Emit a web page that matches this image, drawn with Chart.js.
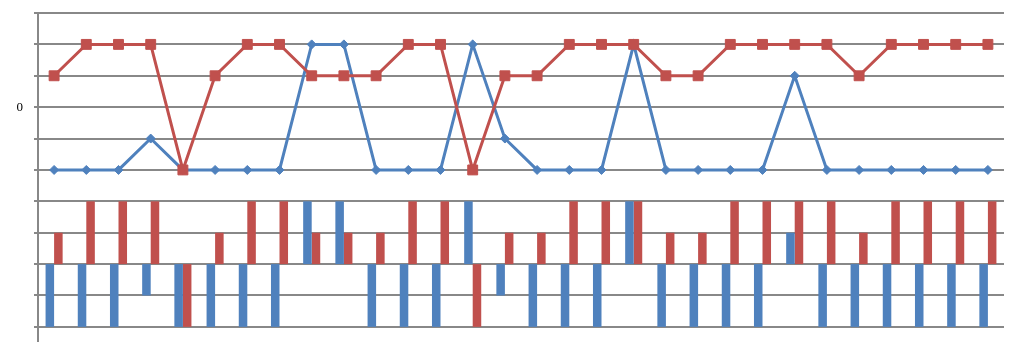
<!DOCTYPE html>
<html>
<head>
<meta charset="utf-8">
<script src="https://cdn.jsdelivr.net/npm/chart.js@4"></script>
<style>
html,body{margin:0;padding:0;background:#fff;}
#wrap{width:1030px;height:354px;position:relative;}
</style>
</head>
<body>
<div id="wrap"><canvas id="c" width="1030" height="354"></canvas></div>
<script>
const categories = Array.from({length:30}, (_, i) => String(i + 1));
const blueValues = [-2,-2,-2,-1,-2,-2,-2,-2,2,2,-2,-2,-2,2,-1,-2,-2,-2,2,-2,-2,-2,-2,1,-2,-2,-2,-2,-2,-2];
const redValues  = [1,2,2,2,-2,1,2,2,1,1,1,2,2,-2,1,1,2,2,2,1,1,2,2,2,2,1,2,2,2,2];
const tickValues = [-7,-6,-5,-4,-3,-2,-1,0,1,2,3];
const tickLabels = {0: '0'};

const BLUE = '#4F81BD';
const RED = '#C0504D';
const GRID = '#888888';

new Chart(document.getElementById('c'), {
  type: 'bar',
  data: {
    labels: categories,
    datasets: [
      { type: 'bar', data: blueValues, backgroundColor: BLUE, yAxisID: 'y1', order: 3,
        barPercentage: 1, categoryPercentage: 0.53 },
      { type: 'bar', data: redValues, backgroundColor: RED, yAxisID: 'y1', order: 4,
        barPercentage: 1, categoryPercentage: 0.53 },
      { type: 'line', data: blueValues, borderColor: BLUE, backgroundColor: BLUE, yAxisID: 'y', order: 2,
        borderWidth: 3, pointStyle: 'rectRot', pointRadius: 4.5, pointBorderWidth: 1, tension: 0 },
      { type: 'line', data: redValues, borderColor: RED, backgroundColor: RED, yAxisID: 'y', order: 1,
        borderWidth: 3, pointStyle: 'rect', pointRadius: 7, pointBorderWidth: 1, tension: 0 }
    ]
  },
  options: {
    responsive: false,
    animation: false,
    devicePixelRatio: 1,
    layout: { padding: { top: 13, right: 26, bottom: 13, left: 0 } },
    plugins: { legend: { display: false }, tooltip: { enabled: false } },
    scales: {
      x: { display: false, offset: true },
      y: {
        position: 'left',
        min: -7.45, max: 3,
        afterBuildTicks: (s) => { s.ticks = tickValues.map(v => ({ value: v })); },
        afterFit: (s) => { s.width = 38; s.paddingTop = 0; s.paddingBottom = 0; },
        ticks: {
          padding: 11,
          color: '#000',
          font: { family: 'Liberation Serif', size: 13 },
          callback: (v) => (tickLabels[v] !== undefined ? tickLabels[v] : '')
        },
        grid: { color: GRID, lineWidth: 2, tickLength: 4, drawTicks: true },
        border: { display: true, color: GRID, width: 2 }
      },
      y1: {
        display: false,
        min: -2.45, max: 8
      }
    }
  }
});
</script>
</body>
</html>
